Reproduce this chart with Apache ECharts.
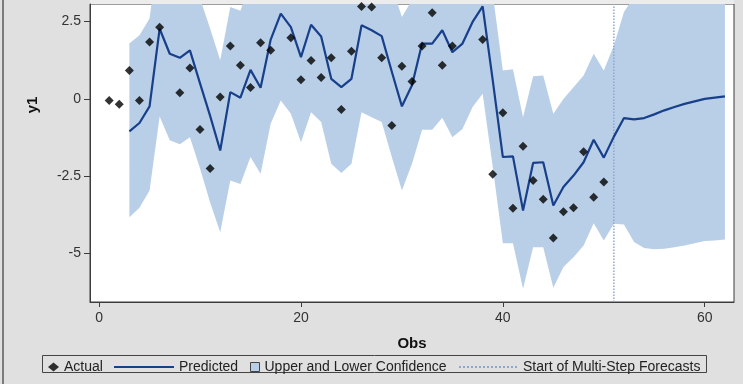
<!DOCTYPE html>
<html><head><meta charset="utf-8">
<script src="https://cdn.jsdelivr.net/npm/echarts@6/dist/echarts.min.js"></script>
<style>html,body{margin:0;padding:0;background:#e0e0e0}#c{width:743px;height:384px}</style>
</head><body><div id="c"></div>
<script>
const obs = [1,2,3,4,5,6,7,8,9,10,11,12,13,14,15,16,17,18,19,20,21,22,23,24,25,26,27,28,29,30,31,32,33,34,35,36,37,38,39,40,41,42,43,44,45,46,47,48,49,50,51,52,53,54,55,56,57,58,59,60,61,62];
const actual = [-0.05,-0.17,0.92,-0.05,1.84,2.32,3.40,0.20,1.00,-0.99,-2.25,0.06,1.71,1.09,0.37,1.82,1.57,3.50,1.98,0.62,1.24,0.69,1.33,-0.34,1.54,2.99,2.97,1.33,-0.86,1.06,0.56,1.71,2.79,1.09,1.71,3.30,3.40,1.92,-2.44,-0.45,-3.54,-1.53,-2.64,-3.25,-4.50,-3.65,-3.52,-1.71,-3.18,-2.69,null,null,null,null,null,null,null,null,null,null,null,null];
const predicted = [null,null,-1.05,-0.78,-0.24,2.27,1.46,1.33,1.57,0.50,-0.55,-1.67,0.22,0.04,0.94,0.36,1.92,2.76,2.32,1.35,2.40,2.02,0.65,0.38,0.65,2.38,2.22,2.03,0.88,-0.24,0.44,1.79,1.79,2.22,1.51,1.79,2.49,2.99,0.60,-1.88,-1.86,-3.61,-2.07,-2.05,-3.45,-2.85,-2.48,-2.05,-1.32,-1.90,-1.22,-0.62,-0.66,-0.62,-0.50,-0.37,-0.26,-0.16,-0.08,0.00,0.04,0.08];
const lower = [null,null,-3.83,-3.52,-2.96,-0.57,-1.34,-1.47,-1.24,-2.25,-3.35,-4.31,-2.64,-2.75,-1.88,-2.42,-0.80,-0.05,-0.48,-1.40,-0.43,-0.75,-2.10,-2.40,-2.10,-0.43,-0.59,-0.75,-1.88,-2.96,-2.10,-1.00,-1.00,-0.61,-1.24,-0.97,-0.26,0.17,-2.20,-4.67,-4.67,-6.14,-4.80,-4.80,-6.11,-5.44,-5.12,-4.74,-4.02,-4.58,-4.04,-4.06,-4.63,-4.82,-4.86,-4.85,-4.80,-4.74,-4.67,-4.60,-4.58,-4.55];
const upper = [null,null,1.79,2.06,2.60,5.10,4.26,4.13,4.38,3.25,2.28,1.25,2.97,2.85,3.76,3.14,4.64,5.57,5.12,4.10,5.23,4.79,3.40,3.16,3.40,5.19,5.03,4.81,3.64,2.65,3.20,4.58,4.58,5.05,4.26,4.55,5.24,5.80,3.40,0.92,0.96,-0.59,0.73,0.76,-0.48,0.00,0.38,0.76,1.46,0.92,1.73,2.81,3.31,3.58,3.86,4.11,4.28,4.42,4.51,4.60,4.66,4.71];
const forecastStart = 51;
const xTicks = [0,20,40,60];
const yTicks = [-5,-2.5,0,2.5];
const xMin = -0.9, xMax = 62.9, yMin = -6.57, yMax = 3.07;

const pairs = arr => obs.map((o,i)=>[o,arr[i]]).filter(p=>p[1]!==null);
const bandRows = obs.map((o,i)=>[o, lower[i], upper[i]]).filter(r=>r[1]!==null);

const FONT = '"Liberation Sans", Arial, sans-serif';
const BAND = '#b9cfe8', LINE = '#173f8a', DOT = '#8ba8d4', TXT = '#333333';
const legendText = {fontFamily:FONT, fontSize:14, color:'#222'};

const chart = echarts.init(document.getElementById('c'), null, {renderer:'canvas'});
chart.setOption({
  animation:false,
  backgroundColor:'#e0e0e0',
  grid:{left:90, right:9, top:4, bottom:82, show:true, backgroundColor:'#ffffff', borderColor:'#3c3c3c', borderWidth:1},
  xAxis:{type:'value', min:xMin, max:xMax, name:'Obs', nameLocation:'middle', nameGap:34,
    nameTextStyle:{fontFamily:FONT, fontSize:15, fontWeight:'bold', color:'#111'},
    axisLine:{show:true, onZero:false, lineStyle:{color:'#3c3c3c'}},
    axisTick:{show:true, customValues:xTicks, length:5, lineStyle:{color:'#3c3c3c'}},
    axisLabel:{customValues:xTicks, fontFamily:FONT, fontSize:14, color:TXT, margin:9},
    splitLine:{show:false}},
  yAxis:{type:'value', min:yMin, max:yMax,
    axisLine:{show:true, onZero:false, lineStyle:{color:'#3c3c3c'}},
    axisTick:{show:true, customValues:yTicks, length:6, lineStyle:{color:'#3c3c3c'}},
    axisLabel:{customValues:yTicks, fontFamily:FONT, fontSize:14, color:TXT, margin:9},
    splitLine:{show:false}},
  legend:[
    {left:48, top:360, padding:0, itemWidth:11, itemHeight:9, selectedMode:false,
     data:[{name:'Actual', icon:'diamond'}], textStyle:legendText},
    {left:113, top:360, padding:0, itemWidth:60, itemHeight:9, selectedMode:false,
     itemStyle:{opacity:0}, data:['Predicted'], textStyle:legendText},
    {left:250, top:360, padding:0, itemWidth:9, itemHeight:9, selectedMode:false,
     data:[{name:'Upper and Lower Confidence', icon:'rect', itemStyle:{color:BAND, borderColor:'#444', borderWidth:1}}],
     textStyle:legendText},
    {left:458, top:360, padding:0, itemWidth:59, itemHeight:9, selectedMode:false,
     itemStyle:{opacity:0}, data:['Start of Multi-Step Forecasts'], textStyle:legendText}
  ],
  graphic:[
    {type:'rect', shape:{x:2, y:0, width:2, height:384}, style:{fill:'#7c7c7c'}, silent:true},
    {type:'rect', shape:{x:90, y:0, width:644, height:4}, style:{fill:'#ececec'}, silent:true},
    {type:'rect', shape:{x:42.5, y:355.5, width:664, height:17}, style:{fill:'none', stroke:'#444', lineWidth:1}, silent:true},
    {type:'text', x:33, y:105, rotation:Math.PI/2, silent:true,
     style:{text:'y1', fontFamily:FONT, fontSize:15, fontWeight:'bold', fill:'#111', align:'center', verticalAlign:'middle'}}
  ],
  series:[
    {name:'Upper and Lower Confidence', type:'custom', data:bandRows, clip:true, silent:true, z:1,
     encode:{x:0, y:[1,2]}, itemStyle:{color:BAND},
     renderItem:function(params, api){
       if (params.dataIndex !== 0) return null;
       const top = bandRows.map(r=>api.coord([r[0], r[2]]));
       const bot = bandRows.slice().reverse().map(r=>api.coord([r[0], r[1]]));
       return {type:'polygon', shape:{points: top.concat(bot)}, style:{fill:BAND}};
     }},
    {name:'Start of Multi-Step Forecasts', type:'line', data:[[forecastStart,yMin],[forecastStart,yMax]], symbol:'none',
     lineStyle:{color:DOT, width:1.5, type:'dotted'}, itemStyle:{color:DOT}, z:3},
    {name:'Predicted', type:'line', data:pairs(predicted), symbol:'none',
     lineStyle:{color:LINE, width:2.2}, itemStyle:{color:LINE}, z:4},
    {name:'Actual', type:'scatter', data:pairs(actual), symbol:'diamond', symbolSize:[9,9],
     itemStyle:{color:'#000'}, z:5}
  ]
});
</script></body></html>
